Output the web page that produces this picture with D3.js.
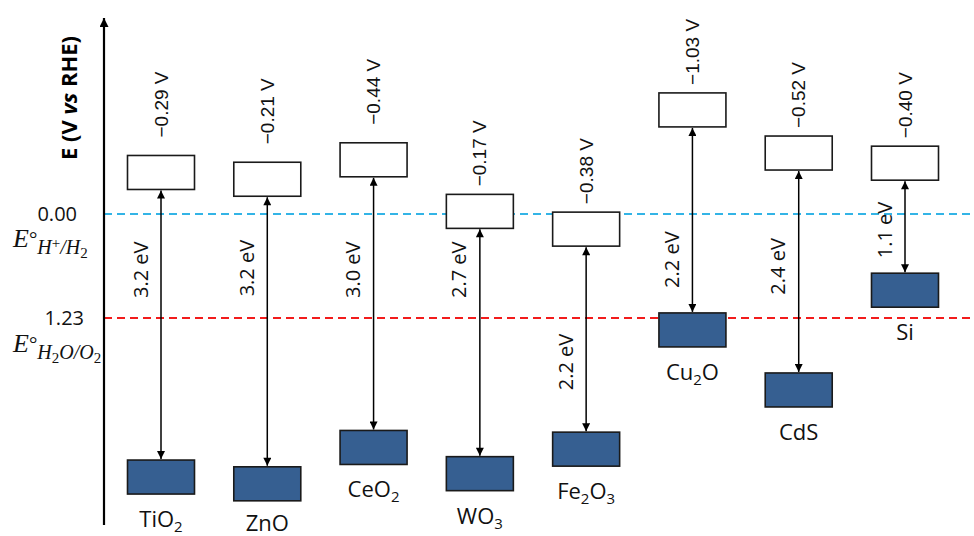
<!DOCTYPE html>
<html>
<head>
<meta charset="utf-8">
<script src="https://cdn.jsdelivr.net/npm/d3@7"></script>
<style>
  html, body { margin: 0; padding: 0; background: #fff; }
  svg { display: block; }
</style>
</head>
<body>
<svg id="chart" width="974" height="536"></svg>
<script>
// ---------------- data ----------------
const materials   = ["TiO2", "ZnO", "CeO2", "WO3", "Fe2O3", "Cu2O", "CdS", "Si"];
// conduction-band potential as labelled (V vs RHE)
const cbReported  = [-0.29, -0.21, -0.44, -0.17, -0.38, -1.03, -0.52, -0.40];
// conduction-band edge as drawn in the figure (V vs RHE)
const cbDrawn     = [-0.29, -0.21, -0.44, 0.17, 0.38, -1.03, -0.52, -0.40];
// band gaps (eV)
const bandGaps    = [3.2, 3.2, 3.0, 2.7, 2.2, 2.2, 2.4, 1.1];
// potential (V vs RHE) at which each band-gap label sits
const gapLabelAt  = [0.66, 0.64, 0.66, 0.66, 1.75, 0.54, 0.62, 0.19];
// reference redox potentials
const refValues   = [0.00, 1.23];
const refLabels   = ["0.00", "1.23"];

// ---------------- layout ----------------
const svg = d3.select("#chart");
const W = 974, H = 536;
const axisX = 104;
const boxW = 67, boxH = 34;

const x = d3.scalePoint().domain(materials).range([161, 905]);
const y = d3.scaleLinear().domain([0, 1.23]).range([214, 318]);

const sans = "'Open Sans', 'Noto Sans', sans-serif";
const arial = "'Liberation Sans', Arial, sans-serif";
const serif = "'Liberation Serif', 'DejaVu Serif', serif";

// arrow marker
const defs = svg.append("defs");
defs.append("marker")
  .attr("id", "ah")
  .attr("viewBox", "0 0 10 10")
  .attr("refX", 10).attr("refY", 5)
  .attr("markerUnits", "userSpaceOnUse")
  .attr("markerWidth", 9).attr("markerHeight", 8)
  .attr("orient", "auto-start-reverse")
  .append("path").attr("d", "M0,0 L10,5 L0,10 Z").attr("fill", "#000");
defs.append("marker")
  .attr("id", "axh")
  .attr("viewBox", "0 0 10 10")
  .attr("refX", 10).attr("refY", 5)
  .attr("markerUnits", "userSpaceOnUse")
  .attr("markerWidth", 10).attr("markerHeight", 9)
  .attr("orient", "auto")
  .append("path").attr("d", "M0,0 L10,5 L0,10 Z").attr("fill", "#000");

// reference dashed lines
const refColors = ["#33b4e6", "#f21c1c"];
svg.selectAll("line.ref").data(refValues).join("line")
  .attr("class", "ref")
  .attr("x1", axisX).attr("x2", W)
  .attr("y1", d => y(d)).attr("y2", d => y(d))
  .attr("stroke", (d, i) => refColors[i])
  .attr("stroke-width", 2)
  .attr("stroke-dasharray", "8,5");

// vertical energy axis
svg.append("line")
  .attr("x1", axisX).attr("x2", axisX)
  .attr("y1", 525).attr("y2", 18)
  .attr("stroke", "#000").attr("stroke-width", 2.2)
  .attr("marker-end", "url(#axh)");

// axis title
const title = svg.append("text")
  .attr("transform", "translate(68,98) rotate(-90)")
  .attr("text-anchor", "middle")
  .attr("dominant-baseline", "central")
  .attr("font-family", sans).attr("font-weight", "bold")
  .attr("font-size", 22).attr("fill", "#000");
title.append("tspan").text("E (V ");
title.append("tspan").attr("font-style", "italic").text("vs");
title.append("tspan").text(" RHE)");

// reference value labels
const refRight = [77, 84];
svg.selectAll("text.refv").data(refLabels).join("text")
  .attr("class", "refv")
  .attr("x", (d, i) => refRight[i])
  .attr("y", (d, i) => y(refValues[i]) + 7)
  .attr("text-anchor", "end")
  .attr("font-family", sans).attr("font-size", 20).attr("fill", "#111")
  .text(d => d);

// E° labels
function eLabel(yBase, parts) {
  const t = svg.append("text")
    .attr("x", 13).attr("y", yBase)
    .attr("font-family", serif).attr("font-style", "italic")
    .attr("font-size", 26).attr("fill", "#111");
  t.append("tspan").text("E");
  t.append("tspan").attr("font-style", "normal").attr("font-size", 21).attr("dy", -1).text("°");
  let cur = -1;
  parts.forEach(p => {
    const target = p.sup ? 1 : (p.sub ? 11 : 7);
    t.append("tspan").attr("font-size", p.size)
      .attr("dy", target - cur)
      .attr("font-style", p.upright ? "normal" : "italic")
      .text(p.t);
    cur = target;
  });
}
eLabel(247, [
  {t: "H", size: 20}, {t: "+", size: 15, sup: true, upright: true},
  {t: "/H", size: 20}, {t: "2", size: 15, sub: true, upright: true}
]);
eLabel(352, [
  {t: "H", size: 20}, {t: "2", size: 15, sub: true, upright: true},
  {t: "O/O", size: 20}, {t: "2", size: 15, sub: true, upright: true}
]);

// data rows
const rows = materials.map((m, i) => ({
  m, i, cb: cbDrawn[i], rep: cbReported[i], gap: bandGaps[i],
  vb: +(cbDrawn[i] + bandGaps[i]).toFixed(2), labAt: gapLabelAt[i]
}));

// conduction band boxes (white)
svg.selectAll("rect.cb").data(rows).join("rect")
  .attr("class", "cb")
  .attr("x", d => x(d.m) - boxW / 2)
  .attr("y", d => y(d.cb) - boxH)
  .attr("width", boxW).attr("height", boxH)
  .attr("fill", "#fff").attr("stroke", "#1a1a1a").attr("stroke-width", 1.6);

// valence band boxes (blue)
svg.selectAll("rect.vb").data(rows).join("rect")
  .attr("class", "vb")
  .attr("x", d => x(d.m) - boxW / 2)
  .attr("y", d => y(d.vb))
  .attr("width", boxW).attr("height", boxH)
  .attr("fill", "#365f91").attr("stroke", "#1a1a1a").attr("stroke-width", 1.6);

// double arrows
svg.selectAll("line.gap").data(rows).join("line")
  .attr("class", "gap")
  .attr("x1", d => x(d.m)).attr("x2", d => x(d.m))
  .attr("y1", d => y(d.cb) + 1).attr("y2", d => y(d.vb) - 1)
  .attr("stroke", "#000").attr("stroke-width", 1.5)
  .attr("marker-start", "url(#ah)").attr("marker-end", "url(#ah)");

// CB potential labels (rotated)
const fmtV = d3.format(".2f");
svg.selectAll("text.cbl").data(rows).join("text")
  .attr("class", "cbl")
  .attr("transform", d => `translate(${x(d.m)},${y(d.cb) - boxH - (d.i < 3 ? 18 : 8)}) rotate(-90)`)
  .attr("text-anchor", "start")
  .attr("dominant-baseline", "central")
  .attr("font-family", arial).attr("font-size", 19).attr("fill", "#111")
  .text(d => fmtV(d.rep) + " V");

// band gap labels (rotated)
const fmtE = d3.format(".1f");
svg.selectAll("text.gapl").data(rows).join("text")
  .attr("class", "gapl")
  .attr("transform", d => `translate(${x(d.m) - 21},${y(d.labAt)}) rotate(-90)`)
  .attr("text-anchor", "middle")
  .attr("dominant-baseline", "central")
  .attr("font-family", sans).attr("font-size", 20).attr("fill", "#111")
  .text(d => fmtE(d.gap) + " eV");

// material names with subscripts
svg.selectAll("text.name").data(rows).join("text")
  .attr("class", "name")
  .attr("x", d => x(d.m))
  .attr("y", d => Math.min(y(d.vb) + boxH + 33, 531))
  .attr("text-anchor", "middle")
  .attr("font-family", sans).attr("font-size", 22).attr("fill", "#111")
  .each(function(d) {
    const t = d3.select(this);
    const parts = d.m.match(/[A-Za-z]+|\d+/g);
    let down = false;
    parts.forEach(p => {
      const isNum = /\d/.test(p);
      const ts = t.append("tspan").text(p);
      if (isNum) { ts.attr("font-size", 15).attr("dy", down ? 0 : 5); down = true; }
      else { if (down) ts.attr("dy", -5); down = false; }
    });
  });
</script>
</body>
</html>
